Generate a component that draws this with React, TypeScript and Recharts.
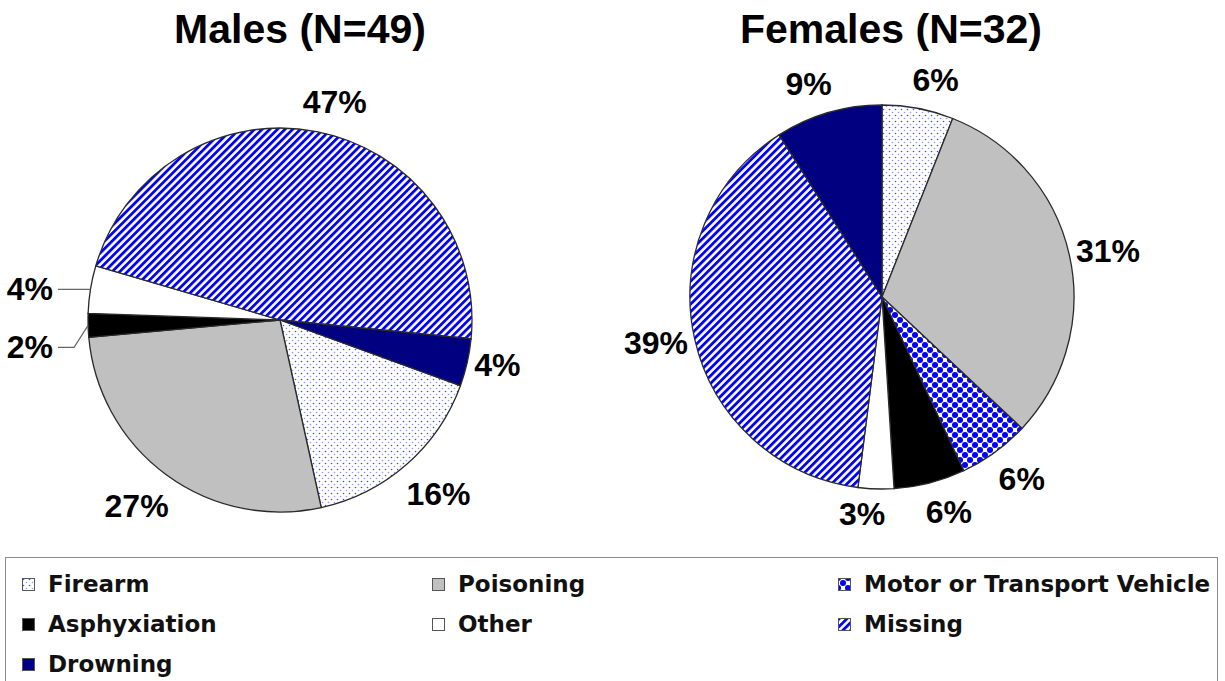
import { PieChart, Pie, Cell } from "recharts";

const CATEGORIES = [
  "Firearm",
  "Poisoning",
  "Motor or Transport Vehicle",
  "Asphyxiation",
  "Other",
  "Missing",
  "Drowning",
];

// percentages as printed on the slices
const MALES_PCT = [16, 27, 0, 2, 4, 47, 4];
const FEMALES_PCT = [6, 31, 6, 6, 3, 39, 9];

const MALES_TITLE = "Males (N=49)";
const FEMALES_TITLE = "Females (N=32)";

const FILLS: Record<string, string> = {
  Firearm: "url(#dots)",
  Poisoning: "#c0c0c0",
  "Motor or Transport Vehicle": "url(#diamonds)",
  Asphyxiation: "#000000",
  Other: "#ffffff",
  Missing: "url(#stripes)",
  Drowning: "#000080",
};

const LABEL_SIZE = 32;
const LABEL_GAP = 13;
const RADIUS = 192;
// vertical push for the small callout labels on the left of the male pie
const CALLOUT_SHIFT: Record<string, number> = { Asphyxiation: 22, Other: 0 };

const toData = (values: number[]) =>
  CATEGORIES.map((name, i) => ({ name, value: values[i] })).filter((d) => d.value > 0);

const renderLabel = (props: any) => {
  const { cx, cy, midAngle, outerRadius, value, name } = props;
  if (!value) return null;
  const rad = Math.PI / 180;
  const dx = Math.cos(-midAngle * rad);
  const dy = Math.sin(-midAngle * rad);
  const text = `${value}%`;
  const w = ((text.length - 1) * 0.556 + 0.889) * LABEL_SIZE;
  const h = 0.72 * LABEL_SIZE;
  const style = {
    fontFamily: "'Liberation Sans', Arial, sans-serif",
    fontWeight: 700,
    fontSize: LABEL_SIZE,
    fill: "#000",
  };

  if (value < 5 && dx < -0.9) {
    // small slice on the left: leader line + right-aligned label
    const ex = cx + outerRadius * dx;
    const ey = cy + outerRadius * dy;
    const ly = ey + (CALLOUT_SHIFT[name] ?? 0);
    const lx = cx - outerRadius - 30;
    return (
      <g>
        <polyline
          points={`${ex},${ey} ${ex - 14},${ly} ${lx},${ly}`}
          fill="none"
          stroke="#666"
          strokeWidth={1.2}
        />
        <text x={lx - 5} y={ly} textAnchor="end" dominantBaseline="central" style={style}>
          {text}
        </text>
      </g>
    );
  }

  const dist = outerRadius + LABEL_GAP + (Math.abs(dx) * w) / 2 + (Math.abs(dy) * h) / 2;
  // labels drift sideways away from the vertical axis, side labels sit a bit closer
  const sx = Math.sign(dx) * (13 - 21 * dx * dx);
  const sy = -Math.sign(dy) * 6 * dx * dx;
  return (
    <text
      x={cx + dist * dx + sx}
      y={cy + dist * dy + sy}
      textAnchor="middle"
      dominantBaseline="central"
      style={style}
    >
      {text}
    </text>
  );
};

const Patterns = () => (
  <svg width={0} height={0} style={{ position: "absolute" }}>
    <defs>
      <pattern id="dots" width="6" height="6" patternUnits="userSpaceOnUse">
        <rect width="6" height="6" fill="#fff" />
        <circle cx="1.5" cy="1.5" r="0.8" fill="#3b4dff" />
        <circle cx="4.5" cy="4.5" r="0.8" fill="#8f99ff" />
      </pattern>
      <pattern
        id="stripes"
        width="5.4"
        height="5.4"
        patternUnits="userSpaceOnUse"
        patternTransform="rotate(45)"
      >
        <rect width="5.4" height="5.4" fill="#fff" />
        <rect width="2.8" height="5.4" fill="#0000ff" />
      </pattern>
      <pattern id="diamonds" width="10" height="10" patternUnits="userSpaceOnUse">
        <rect width="10" height="10" fill="#fff" />
        <circle cx="0" cy="0" r="3" fill="#0000ff" />
        <circle cx="10" cy="0" r="3" fill="#0000ff" />
        <circle cx="0" cy="10" r="3" fill="#0000ff" />
        <circle cx="10" cy="10" r="3" fill="#0000ff" />
        <circle cx="5" cy="5" r="3" fill="#0000ff" />
      </pattern>
    </defs>
  </svg>
);

const titleStyle = (left: number): React.CSSProperties => ({
  position: "absolute",
  top: 9,
  left,
  width: 600,
  textAlign: "center",
  fontFamily: "'Liberation Sans', Arial, sans-serif",
  fontWeight: 700,
  fontSize: 41,
  lineHeight: "41px",
  color: "#000",
});

const App = () => {
  const males = toData(MALES_PCT);
  const females = toData(FEMALES_PCT);

  return (
    <div
      style={{
        position: "absolute",
        left: 0,
        top: 0,
        width: 1225,
        height: 681,
        background: "#fff",
        overflow: "hidden",
      }}
    >
      <Patterns />
      <div style={titleStyle(0)}>{MALES_TITLE}</div>
      <div style={titleStyle(591)}>{FEMALES_TITLE}</div>

      <PieChart
        width={1225}
        height={557}
        margin={{ top: 0, right: 0, bottom: 0, left: 0 }}
        style={{ position: "absolute", left: 0, top: 0 }}
      >
        <Pie
          data={males}
          dataKey="value"
          nameKey="name"
          cx={280}
          cy={320}
          outerRadius={RADIUS}
          startAngle={-20}
          endAngle={-380}
          stroke="#2a2a2a"
          strokeWidth={1.3}
          label={renderLabel}
          labelLine={false}
          isAnimationActive={false}
        >
          {males.map((d) => (
            <Cell key={d.name} fill={FILLS[d.name]} />
          ))}
        </Pie>
        <Pie
          data={females}
          dataKey="value"
          nameKey="name"
          cx={882}
          cy={297}
          outerRadius={RADIUS}
          startAngle={90}
          endAngle={-270}
          stroke="#2a2a2a"
          strokeWidth={1.3}
          label={renderLabel}
          labelLine={false}
          isAnimationActive={false}
        >
          {females.map((d) => (
            <Cell key={d.name} fill={FILLS[d.name]} />
          ))}
        </Pie>
      </PieChart>

      <div
        style={{
          position: "absolute",
          left: 5,
          top: 557,
          width: 1213,
          height: 140,
          border: "1px solid #8a8a8a",
          boxSizing: "border-box",
          paddingTop: 6,
          paddingLeft: 16,
          display: "grid",
          gridTemplateColumns: "410px 406px auto",
          gridAutoRows: "40px",
          fontFamily: "'DejaVu Sans', Verdana, sans-serif",
          fontWeight: 700,
          fontSize: 23,
          color: "#111",
        }}
      >
        {CATEGORIES.map((name) => (
          <div key={name} style={{ display: "flex", alignItems: "center", height: 40 }}>
            <svg width={13} height={13} style={{ marginRight: 13, flexShrink: 0 }}>
              <rect x={0.5} y={0.5} width={12} height={12} fill={FILLS[name]} stroke="#555" />
            </svg>
            <span>{name}</span>
          </div>
        ))}
      </div>
    </div>
  );
};

export default App;
